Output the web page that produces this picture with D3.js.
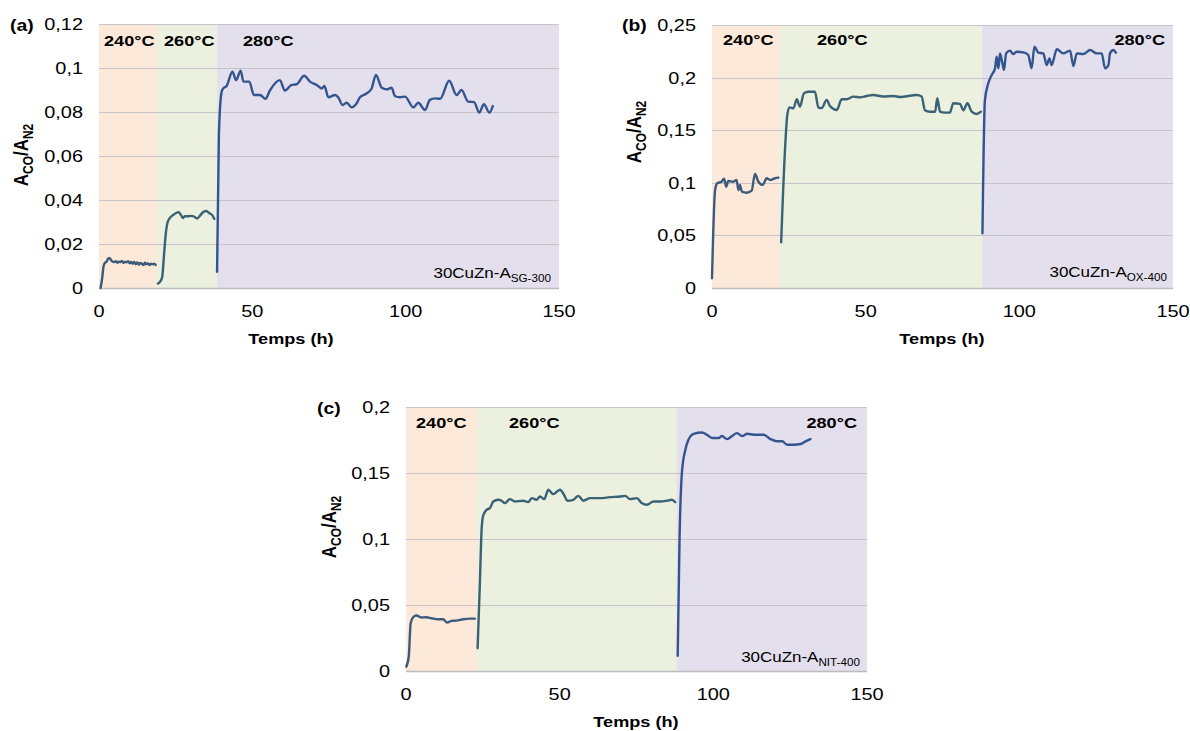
<!DOCTYPE html>
<html><head><meta charset="utf-8">
<script src="https://cdn.jsdelivr.net/npm/d3@7"></script>
<style>
body{margin:0;background:#fff}
text{font-family:"Liberation Sans",Arial,sans-serif;fill:#000}
</style></head>
<body><svg id="chart" width="1190" height="731"></svg>
<script>
// ---------- DATA ----------
const xTicks = [0, 50, 100, 150];
const xTickLabels = ["0", "50", "100", "150"];
const tempLabels = ["240°C", "260°C", "280°C"];

// Panel (a) 30CuZn-A SG-300
const yTicksA = [0, 0.02, 0.04, 0.06, 0.08, 0.1, 0.12];
const yLabelsA = ["0", "0,02", "0,04", "0,06", "0,08", "0,1", "0,12"];
const bandsA = [[0, 18.9], [18.9, 38.5], [38.5, 150]];
const a240 = [[0.5,0],[1,0.004],[1.5,0.010],[2,0.0115],[2.5,0.012],[3,0.0135],[3.5,0.0136],[4,0.0125],[4.5,0.012],[5,0.0118],[5.5,0.0122],[6,0.0115],[6.5,0.012],[7,0.0118],[7.5,0.0123],[8,0.0114],[8.5,0.012],[9,0.0117],[9.5,0.0122],[10,0.0112],[10.5,0.0118],[11,0.011],[11.5,0.0118],[12,0.0108],[12.5,0.0116],[13,0.0106],[13.5,0.0114],[14,0.011],[14.5,0.0104],[15,0.0115],[15.5,0.0108],[16,0.0112],[16.5,0.0104],[17,0.011],[17.5,0.0108],[18,0.0111],[18.5,0.0105]];
const a260 = [[19.2,0.002],[20,0.003],[20.6,0.005],[21.2,0.015],[21.8,0.025],[22.4,0.030],[23.2,0.032],[24,0.033],[25,0.034],[26,0.0345],[26.8,0.033],[27.4,0.0318],[28,0.0326],[29,0.0326],[30,0.0328],[31,0.0325],[32,0.0316],[33,0.033],[34,0.0345],[35,0.035],[36,0.034],[37,0.033],[37.6,0.0314]];
const a280 = [[38.5,0.0074],[39.1,0.070],[40,0.0892],[40.5,0.0907],[41.6,0.0918],[43.5,0.0983],[44.7,0.0945],[46.2,0.0988],[47.1,0.0938],[49,0.0938],[50.5,0.0877],[52.5,0.0877],[54.3,0.086],[55.7,0.0897],[59,0.0945],[60.6,0.0897],[62.8,0.0923],[64.4,0.0926],[66.9,0.0965],[68.8,0.0938],[71,0.0923],[72.6,0.0907],[73.5,0.0918],[74.8,0.0867],[77,0.0877],[78,0.0867],[79.4,0.0832],[80.8,0.0842],[82.4,0.0821],[84,0.0839],[85.1,0.0867],[87.3,0.0885],[88.9,0.0907],[90.3,0.0968],[92.2,0.091],[93.8,0.0903],[95.4,0.091],[96.5,0.0873],[98.1,0.0867],[99.8,0.087],[102.5,0.0821],[104.1,0.0842],[106.3,0.0809],[107.9,0.0855],[109.6,0.0862],[111.2,0.086],[114.2,0.0942],[116.6,0.0877],[118.2,0.09],[120.4,0.0847],[122.3,0.0845],[124,0.0797],[125.5,0.0836],[127.3,0.0797],[128.4,0.0827]];

// Panel (b) 30CuZn-A OX-400
const yTicksB = [0, 0.05, 0.1, 0.15, 0.2, 0.25];
const yLabelsB = ["0", "0,05", "0,1", "0,15", "0,2", "0,25"];
const bandsB = [[0, 21.8], [21.8, 87.9], [87.9, 150]];
const b240 = [[0,0.0092],[1,0.093],[1.7,0.0995],[3.1,0.101],[3.9,0.104],[4.6,0.0963],[5.3,0.1017],[6.9,0.101],[8,0.1027],[8.6,0.093],[9.1,0.098],[9.7,0.0916],[11.3,0.0906],[12.9,0.0925],[14,0.1084],[15.1,0.101],[16.5,0.098],[17.8,0.1043],[18.9,0.1027],[20.5,0.1043],[21.6,0.1049]];
const b260 = [[22.5,0.0434],[23.8,0.134],[24.5,0.1645],[25.2,0.1717],[26.5,0.1708],[27.6,0.1794],[28.6,0.1724],[29.9,0.185],[31.3,0.1866],[33.5,0.1866],[34.6,0.1717],[35.7,0.171],[37.3,0.1787],[38.4,0.173],[40.6,0.1692],[42.2,0.1794],[43.8,0.1794],[46,0.1819],[48.2,0.1812],[50.3,0.1825],[52.5,0.1835],[55.7,0.182],[59,0.1825],[61.2,0.1815],[66.6,0.1835],[68.2,0.182],[69.3,0.169],[70.9,0.1676],[72.6,0.1676],[73.3,0.1803],[74.2,0.1676],[75.8,0.1667],[77.4,0.1667],[78.5,0.1756],[80.7,0.175],[81.8,0.169],[83.1,0.1756],[84.5,0.1676],[86.1,0.1654],[87.5,0.1676]];
const b280 = [[88,0.052],[88.8,0.1787],[89.9,0.1946],[91,0.2025],[92.1,0.2088],[92.6,0.2199],[93.2,0.2088],[93.7,0.223],[94.5,0.2135],[95,0.2072],[95.7,0.223],[97,0.2256],[98,0.2224],[99.1,0.2246],[101.3,0.224],[102.9,0.2215],[104,0.2088],[104.9,0.2294],[106.2,0.2237],[107.8,0.223],[108.9,0.212],[109.8,0.2183],[110.5,0.212],[112.2,0.2269],[114.3,0.223],[116.5,0.2256],[117.6,0.211],[118.7,0.223],[120.8,0.2224],[123,0.2262],[125.2,0.223],[126.8,0.223],[127.9,0.2088],[129,0.212],[129.5,0.223],[130.6,0.2262],[131.4,0.2237]];

// Panel (c) 30CuZn-A NIT-400
const yTicksC = [0, 0.05, 0.1, 0.15, 0.2];
const yLabelsC = ["0", "0,05", "0,1", "0,15", "0,2"];
const bandsC = [[0, 23.1], [23.1, 88], [88, 150]];
const c240 = [[0.1,0.0033],[0.9,0.0109],[1.5,0.036],[2.3,0.0407],[3.4,0.042],[5,0.0405],[6.6,0.0407],[8.3,0.040],[10.4,0.0392],[12.1,0.0392],[13.4,0.0367],[14.8,0.038],[16.4,0.0382],[18.6,0.0392],[20.8,0.0397],[22.4,0.0397]];
const c260 = [[23.3,0.0172],[24,0.064],[24.6,0.107],[25.1,0.1176],[26.2,0.1221],[27.3,0.1234],[28.4,0.1284],[30,0.1297],[31.1,0.129],[32.2,0.1272],[33.8,0.1302],[35.4,0.1284],[38.1,0.129],[39.8,0.128],[40.9,0.131],[42.5,0.1297],[43.6,0.1322],[45,0.1302],[46.3,0.1373],[47.9,0.134],[50.1,0.1373],[51.4,0.1335],[52.5,0.129],[54.4,0.1297],[56.1,0.1327],[57.7,0.129],[59.9,0.131],[63.2,0.131],[66.4,0.1317],[69.7,0.1322],[71.3,0.1327],[72.9,0.1302],[75.1,0.131],[76.7,0.1272],[78.4,0.1259],[80.5,0.1284],[82.7,0.1284],[84.9,0.129],[86.5,0.1297],[87.6,0.128]];
const c280 = [[88.4,0.0116],[89,0.0994],[89.8,0.151],[90.9,0.1676],[91.9,0.1752],[93.6,0.1797],[96.3,0.1807],[97.9,0.179],[99.6,0.1765],[101.7,0.1765],[102.8,0.178],[104.5,0.1757],[106.1,0.178],[107.7,0.1802],[109.4,0.178],[111,0.1797],[113.2,0.179],[116.4,0.179],[118.6,0.1757],[120.8,0.174],[122.4,0.174],[124,0.1714],[126.2,0.1714],[128.4,0.172],[130,0.174],[131.6,0.1757]];

// ---------- LAYOUT / STYLE ----------
const SX = 1.17; // horizontal stretch of the original picture's text
const bandColors = ["#fde9d9", "#ebf1de", "#e4dfec"];
const lineColors = ["#3c5a79", "#3a6176", "#33558f"];

const panels = [
  { tag: "(a)", tagPos: [10, 31], box: { x: 99, y: 24, w: 460, h: 264 }, yMax: 0.12,
    yTicks: yTicksA, yLabels: yLabelsA, bands: bandsA, series: [a240, a260, a280],
    temps: [[5, "start"], [65, "start"], [144, "start"]], tempY: 22,
    sample: ["30CuZn-A", "SG-300"], samplePos: [452, 254],
    xTitleX: 291, xTitleY: 344, yTitle: [28, 155] },
  { tag: "(b)", tagPos: [622, 31], box: { x: 712, y: 25, w: 461, h: 263 }, yMax: 0.25,
    yTicks: yTicksB, yLabels: yLabelsB, bands: bandsB, series: [b240, b260, b280],
    temps: [[11, "start"], [105, "start"], [453, "end"]], tempY: 20,
    sample: ["30CuZn-A", "OX-400"], samplePos: [455, 252],
    xTitleX: 942, xTitleY: 344, yTitle: [641, 132] },
  { tag: "(c)", tagPos: [317, 414], box: { x: 406, y: 407, w: 461, h: 264 }, yMax: 0.2,
    yTicks: yTicksC, yLabels: yLabelsC, bands: bandsC, series: [c240, c260, c280],
    temps: [[10, "start"], [103, "start"], [451, "end"]], tempY: 20.5,
    sample: ["30CuZn-A", "NIT-400"], samplePos: [454, 255],
    xTitleX: 636, xTitleY: 727, yTitle: [336, 527] }
];

const svg = d3.select("#chart");

function stretched(sel, x, y, extra) {
  return sel.attr("transform", `translate(${x},${y}) scale(${SX},1)` + (extra || ""));
}

panels.forEach(p => {
  const b = p.box;
  const x = d3.scaleLinear().domain([0, 150]).range([b.x, b.x + b.w]);
  const y = d3.scaleLinear().domain([0, p.yMax]).range([b.y + b.h, b.y]);
  const g = svg.append("g");

  // bands
  g.selectAll("rect.band").data(p.bands).join("rect")
    .attr("x", d => x(d[0])).attr("width", d => x(d[1]) - x(d[0]))
    .attr("y", y(p.yMax)).attr("height", y(0) - y(p.yMax))
    .attr("fill", (d, i) => bandColors[i]);

  // gridlines
  g.selectAll("line.grid").data(p.yTicks.slice(1)).join("line")
    .attr("x1", x(0)).attr("x2", x(150))
    .attr("y1", d => Math.round(y(d)) + 0.5).attr("y2", d => Math.round(y(d)) + 0.5)
    .attr("stroke", "#c8c3cb").attr("stroke-width", 1);
  // x axis baseline
  g.append("line").attr("x1", x(0)).attr("x2", x(150))
    .attr("y1", Math.round(y(0)) + 0.5).attr("y2", Math.round(y(0)) + 0.5)
    .attr("stroke", "#bdbdbd").attr("stroke-width", 1.3);

  // series
  const line = d3.line().x(d => x(d[0])).y(d => y(d[1])).curve(d3.curveMonotoneX);
  p.series.forEach((s, i) => {
    g.append("path").datum(s).attr("d", line)
      .attr("fill", "none").attr("stroke", lineColors[i])
      .attr("stroke-width", 2.4).attr("stroke-linejoin", "round").attr("stroke-linecap", "round");
  });

  // y tick labels
  p.yTicks.forEach((t, i) => {
    stretched(g.append("text"), b.x - 16, y(t))
      .attr("text-anchor", "end").attr("dy", "0.35em")
      .style("font-size", "17px").text(p.yLabels[i]);
  });
  // x tick labels
  xTicks.forEach((t, i) => {
    stretched(g.append("text"), x(t), b.y + b.h + 29)
      .attr("text-anchor", "middle").style("font-size", "17px").text(xTickLabels[i]);
  });

  // x title
  stretched(g.append("text"), p.xTitleX, p.xTitleY)
    .attr("text-anchor", "middle").style("font-size", "15.5px").style("font-weight", "bold")
    .text("Temps (h)");

  // y title
  const yt = stretched(g.append("text"), p.yTitle[0], p.yTitle[1], " rotate(-90)")
    .attr("text-anchor", "middle").style("font-size", "17px").style("font-weight", "bold");
  yt.append("tspan").text("A");
  yt.append("tspan").attr("dy", 4).style("font-size", "12px").text("CO");
  yt.append("tspan").attr("dy", -4).text("/A");
  yt.append("tspan").attr("dy", 4).style("font-size", "12px").text("N2");

  // panel tag
  stretched(g.append("text"), p.tagPos[0], p.tagPos[1])
    .style("font-size", "16.5px").style("font-weight", "bold").text(p.tag);

  // temperature labels
  p.temps.forEach((tp, i) => {
    stretched(g.append("text"), b.x + tp[0], b.y + p.tempY)
      .attr("text-anchor", tp[1]).style("font-size", "15.5px").style("font-weight", "bold")
      .text(tempLabels[i]);
  });

  // sample label
  const st = stretched(g.append("text"), b.x + p.samplePos[0], b.y + p.samplePos[1])
    .attr("text-anchor", "end").style("font-size", "14.5px");
  st.append("tspan").text(p.sample[0]);
  st.append("tspan").attr("dy", 4).style("font-size", "10px").text(p.sample[1]);
});
</script></body></html>
